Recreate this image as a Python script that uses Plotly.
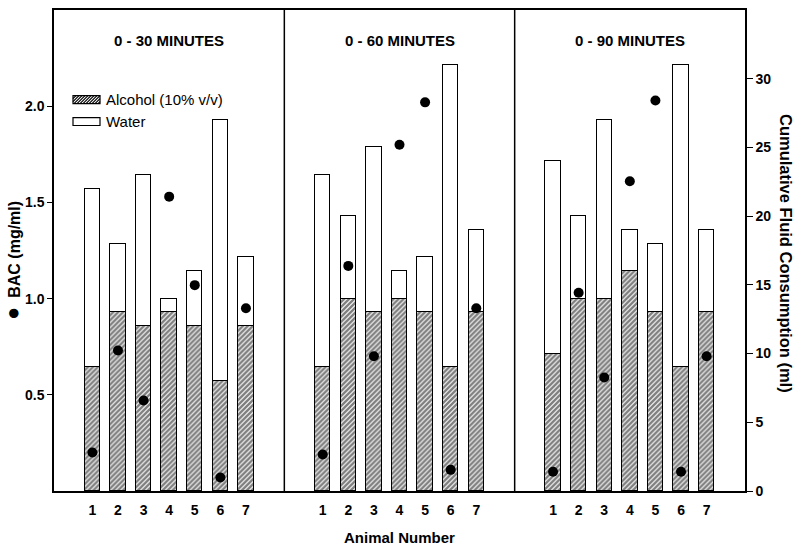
import plotly.graph_objects as go

# ---- data ----
panels = ["0 - 30 MINUTES", "0 - 60 MINUTES", "0 - 90 MINUTES"]
animals = [1, 2, 3, 4, 5, 6, 7]

alcohol_30 = [9, 13, 12, 13, 12, 8, 12]
total_30 = [22, 18, 23, 14, 16, 27, 17]
bac_30 = [0.20, 0.73, 0.47, 1.53, 1.07, 0.07, 0.95]

alcohol_60 = [9, 14, 13, 14, 13, 9, 13]
total_60 = [23, 20, 25, 16, 17, 31, 19]
bac_60 = [0.19, 1.17, 0.70, 1.80, 2.02, 0.11, 0.95]

alcohol_90 = [10, 14, 14, 16, 13, 9, 13]
total_90 = [24, 20, 27, 19, 18, 31, 19]
bac_90 = [0.10, 1.03, 0.59, 1.61, 2.03, 0.10, 0.70]

alcohol = [alcohol_30, alcohol_60, alcohol_90]
total = [total_30, total_60, total_90]
bac = [bac_30, bac_60, bac_90]

# ---- layout geometry (pixels) ----
W, H = 800, 551
ML, MR, MT, MB = 54, 55, 8, 60
PW = W - ML - MR
PH = H - MT - MB


def px(x):
    return (x - ML) / PW


def py(y):
    return (H - MB - y) / PH


xs, alc, water, bacv, ticktext = [], [], [], [], []
for p in range(len(panels)):
    for i, a in enumerate(animals):
        xs.append(p * 9 + a)
        alc.append(alcohol[p][i])
        water.append(total[p][i] - alcohol[p][i])
        bacv.append(bac[p][i])
        ticktext.append(str(a))

FONT = "Liberation Sans, Arial, sans-serif"

fig = go.Figure()
fig.add_trace(go.Bar(
    x=xs, y=alc, yaxis="y", width=0.6, name="Alcohol (10% v/v)",
    marker=dict(color="white", line=dict(color="black", width=1.5),
                pattern=dict(shape="/", size=3.5, solidity=0.7,
                             fgcolor="black", bgcolor="white")),
    showlegend=False,
))
fig.add_trace(go.Bar(
    x=xs, y=water, yaxis="y", width=0.6, name="Water",
    marker=dict(color="white", line=dict(color="black", width=1.5)),
    showlegend=False,
))
fig.add_trace(go.Scatter(
    x=xs, y=bacv, yaxis="y2", mode="markers", name="BAC",
    marker=dict(color="black", size=10), showlegend=False,
))

shapes = []
for xd in [8.5, 17.5]:
    shapes.append(dict(type="line", xref="x", yref="paper", x0=xd, x1=xd,
                       y0=0, y1=1, line=dict(color="black", width=1.5)))

# legend swatches (drawn manually)
lx0, lx1 = 73, 100
ay0, ay1 = 94, 102
wy0, wy1 = 116, 124
shapes.append(dict(type="rect", xref="paper", yref="paper",
                   x0=px(lx0), x1=px(lx1), y0=py(ay1), y1=py(ay0),
                   line=dict(color="black", width=1.2), fillcolor="white"))
# hatch lines in alcohol swatch
hh = ay1 - ay0
path = ""
s = lx0 - hh
while s < lx1:
    xa, ya = s, ay1
    xb, yb = s + hh, ay0
    if xa < lx0:
        ya = ay1 - (lx0 - xa)
        xa = lx0
    if xb > lx1:
        yb = ay0 + (xb - lx1)
        xb = lx1
    if xb > xa:
        path += f"M{px(xa)},{py(ya)} L{px(xb)},{py(yb)} "
    s += 3
shapes.append(dict(type="path", xref="paper", yref="paper", path=path,
                   line=dict(color="black", width=1.2)))
shapes.append(dict(type="rect", xref="paper", yref="paper",
                   x0=px(lx0), x1=px(lx1), y0=py(wy1), y1=py(wy0),
                   line=dict(color="black", width=1.2), fillcolor="white"))

annotations = []
for p, title in enumerate(panels):
    annotations.append(dict(x=p * 9 + 4, xref="x", y=py(39), yref="paper",
                            text=f"<b>{title}</b>", showarrow=False,
                            font=dict(family=FONT, size=15, color="black"),
                            xanchor="center", yanchor="middle"))
annotations.append(dict(x=px(104), y=py(98), xref="paper", yref="paper",
                        text="Alcohol (10% v/v)", showarrow=False,
                        xanchor="left", yanchor="middle",
                        font=dict(family=FONT, size=15, color="black")))
annotations.append(dict(x=px(104), y=py(120), xref="paper", yref="paper",
                        text="Water", showarrow=False,
                        xanchor="left", yanchor="middle",
                        font=dict(family=FONT, size=15, color="black")))
annotations.append(dict(x=px(13), y=py(260), xref="paper", yref="paper",
                        text="<span style='font-size:22px'>●</span>  <b>BAC (mg/ml)</b>",
                        textangle=-90,
                        showarrow=False, xanchor="center", yanchor="middle",
                        font=dict(family=FONT, size=16, color="black")))
annotations.append(dict(x=px(786), y=py(252), xref="paper", yref="paper",
                        text="<b>Cumulative Fluid Consumption (ml)</b>",
                        textangle=90, showarrow=False,
                        xanchor="center", yanchor="middle",
                        font=dict(family=FONT, size=16.5, color="black")))
annotations.append(dict(x=px(399), y=py(538), xref="paper", yref="paper",
                        text="<b>Animal Number</b>", showarrow=False,
                        xanchor="center", yanchor="middle",
                        font=dict(family=FONT, size=15, color="black")))

fig.update_layout(
    width=W, height=H,
    margin=dict(l=ML, r=MR, t=MT, b=MB),
    paper_bgcolor="white", plot_bgcolor="white",
    barmode="stack", bargap=0,
    font=dict(family=FONT, color="black"),
    xaxis=dict(range=[-0.5, 26.5], tickvals=xs, ticktext=ticktext,
               ticks="", showgrid=False, zeroline=False, ticklabelstandoff=5,
               showline=True, linecolor="black", linewidth=1.5, mirror=True,
               tickfont=dict(family=FONT, size=14, color="black", weight="bold")),
    yaxis=dict(range=[0, 35], side="right", tickvals=[0, 5, 10, 15, 20, 25, 30],
               ticks="outside", ticklen=6, tickwidth=1.2, tickcolor="black",
               showgrid=False, zeroline=False,
               showline=True, linecolor="black", linewidth=1.5,
               tickfont=dict(family=FONT, size=14, color="black", weight="bold")),
    yaxis2=dict(range=[0, 2.5], overlaying="y", side="left",
                tickvals=[0.5, 1.0, 1.5, 2.0], ticktext=["0.5", "1.0", "1.5", "2.0"],
                ticks="outside", ticklen=5, tickwidth=1.2, tickcolor="black",
                showgrid=False, zeroline=False,
                showline=True, linecolor="black", linewidth=1.5,
                tickfont=dict(family=FONT, size=14, color="black", weight="bold")),
    shapes=shapes,
    annotations=annotations,
)

fig.write_html("out.html", config={"displayModeBar": False},
               post_script="document.body.style.margin='0';document.body.style.overflow='hidden';")
